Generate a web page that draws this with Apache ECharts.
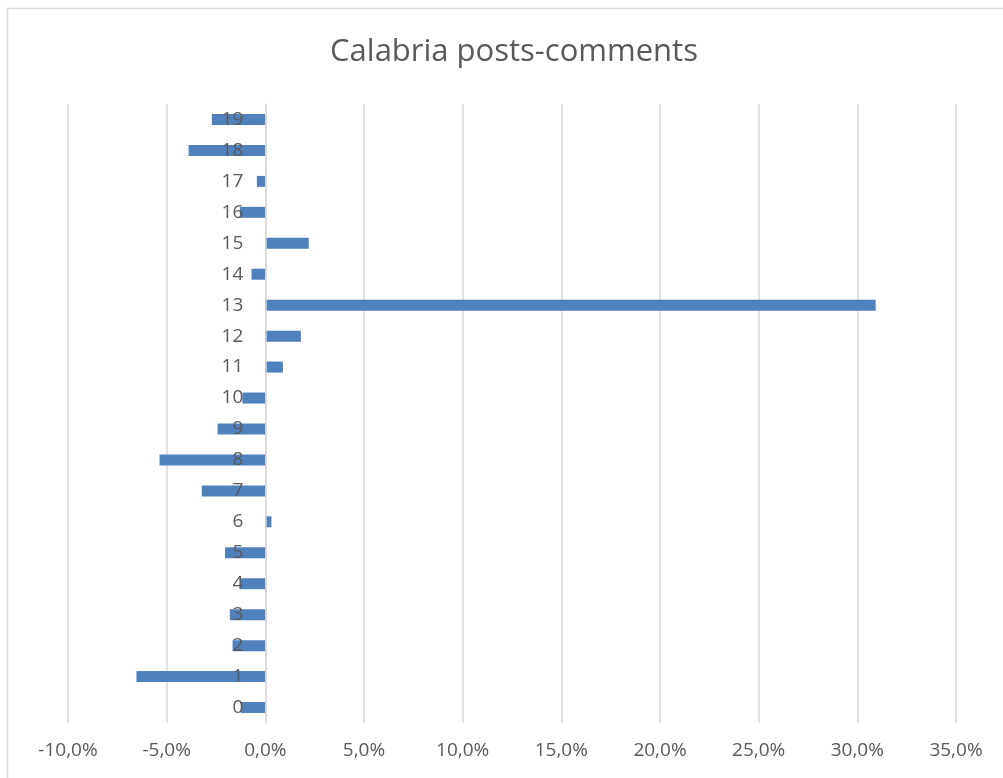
<!DOCTYPE html>
<html>
<head>
<meta charset="utf-8">
<script src="https://cdn.jsdelivr.net/npm/echarts@6/dist/echarts.min.js"></script>
<style>
  html, body { margin: 0; padding: 0; background: #ffffff; }
  #chart { width: 1003px; height: 778px; }
</style>
</head>
<body>
<div id="chart"></div>
<script>
// Categories (bottom to top) and their posts-comments differences, in percent
const categories = ['0','1','2','3','4','5','6','7','8','9','10','11','12','13','14','15','16','17','18','19'];
const values = [-1.24, -6.53, -1.66, -1.80, -1.26, -2.04, 0.31, -3.22, -5.36, -2.42,
                -1.16, 0.89, 1.80, 30.93, -0.70, 2.20, -1.29, -0.43, -3.89, -2.71];
const xTicks = { min: -10, max: 35, step: 5 };
const titleText = 'Calabria posts-comments';

const chart = echarts.init(document.getElementById('chart'));
const textColor = '#595959';
const font = "'Open Sans', 'Liberation Sans', sans-serif";

const gridLeft = 68, gridRight = 47;
const plotWidth = 1003 - gridLeft - gridRight;
// the category axis sits on the zero line of the value axis
const zeroOffset = plotWidth * (0 - xTicks.min) / (xTicks.max - xTicks.min);

chart.setOption({
  backgroundColor: '#ffffff',
  animation: false,
  title: {
    text: titleText,
    left: 509,
    textAlign: 'center',
    top: 32,
    textStyle: { color: textColor, fontFamily: font, fontSize: 31, fontWeight: 'normal' }
  },
  graphic: [{
    type: 'rect',
    shape: { x: 7.5, y: 8.5, width: 1100, height: 900 },
    style: { fill: 'none', stroke: '#d9d9d9', lineWidth: 1.5 },
    silent: true
  }],
  grid: { left: gridLeft, right: gridRight, top: 104, bottom: 55, containLabel: false },
  xAxis: {
    type: 'value',
    min: xTicks.min,
    max: xTicks.max,
    interval: xTicks.step,
    axisLine: { show: false },
    axisTick: { show: false },
    splitLine: { show: true, lineStyle: { color: '#d9d9d9', width: 1.5 } },
    axisLabel: {
      color: textColor, fontFamily: font, fontSize: 19, margin: 18,
      formatter: v => v.toFixed(1).replace('.', ',') + '%'
    }
  },
  yAxis: {
    type: 'category',
    data: categories,
    z: 10,
    offset: -zeroOffset,
    axisLine: { show: true, onZero: false, lineStyle: { color: '#d9d9d9', width: 1.5 } },
    axisTick: { show: false },
    splitLine: { show: false },
    axisLabel: { color: textColor, fontFamily: font, fontSize: 19, margin: 22 }
  },
  series: [{
    type: 'bar',
    data: values,
    barWidth: 11,
    itemStyle: { color: '#4f81bd' }
  }]
});
</script>
</body>
</html>
